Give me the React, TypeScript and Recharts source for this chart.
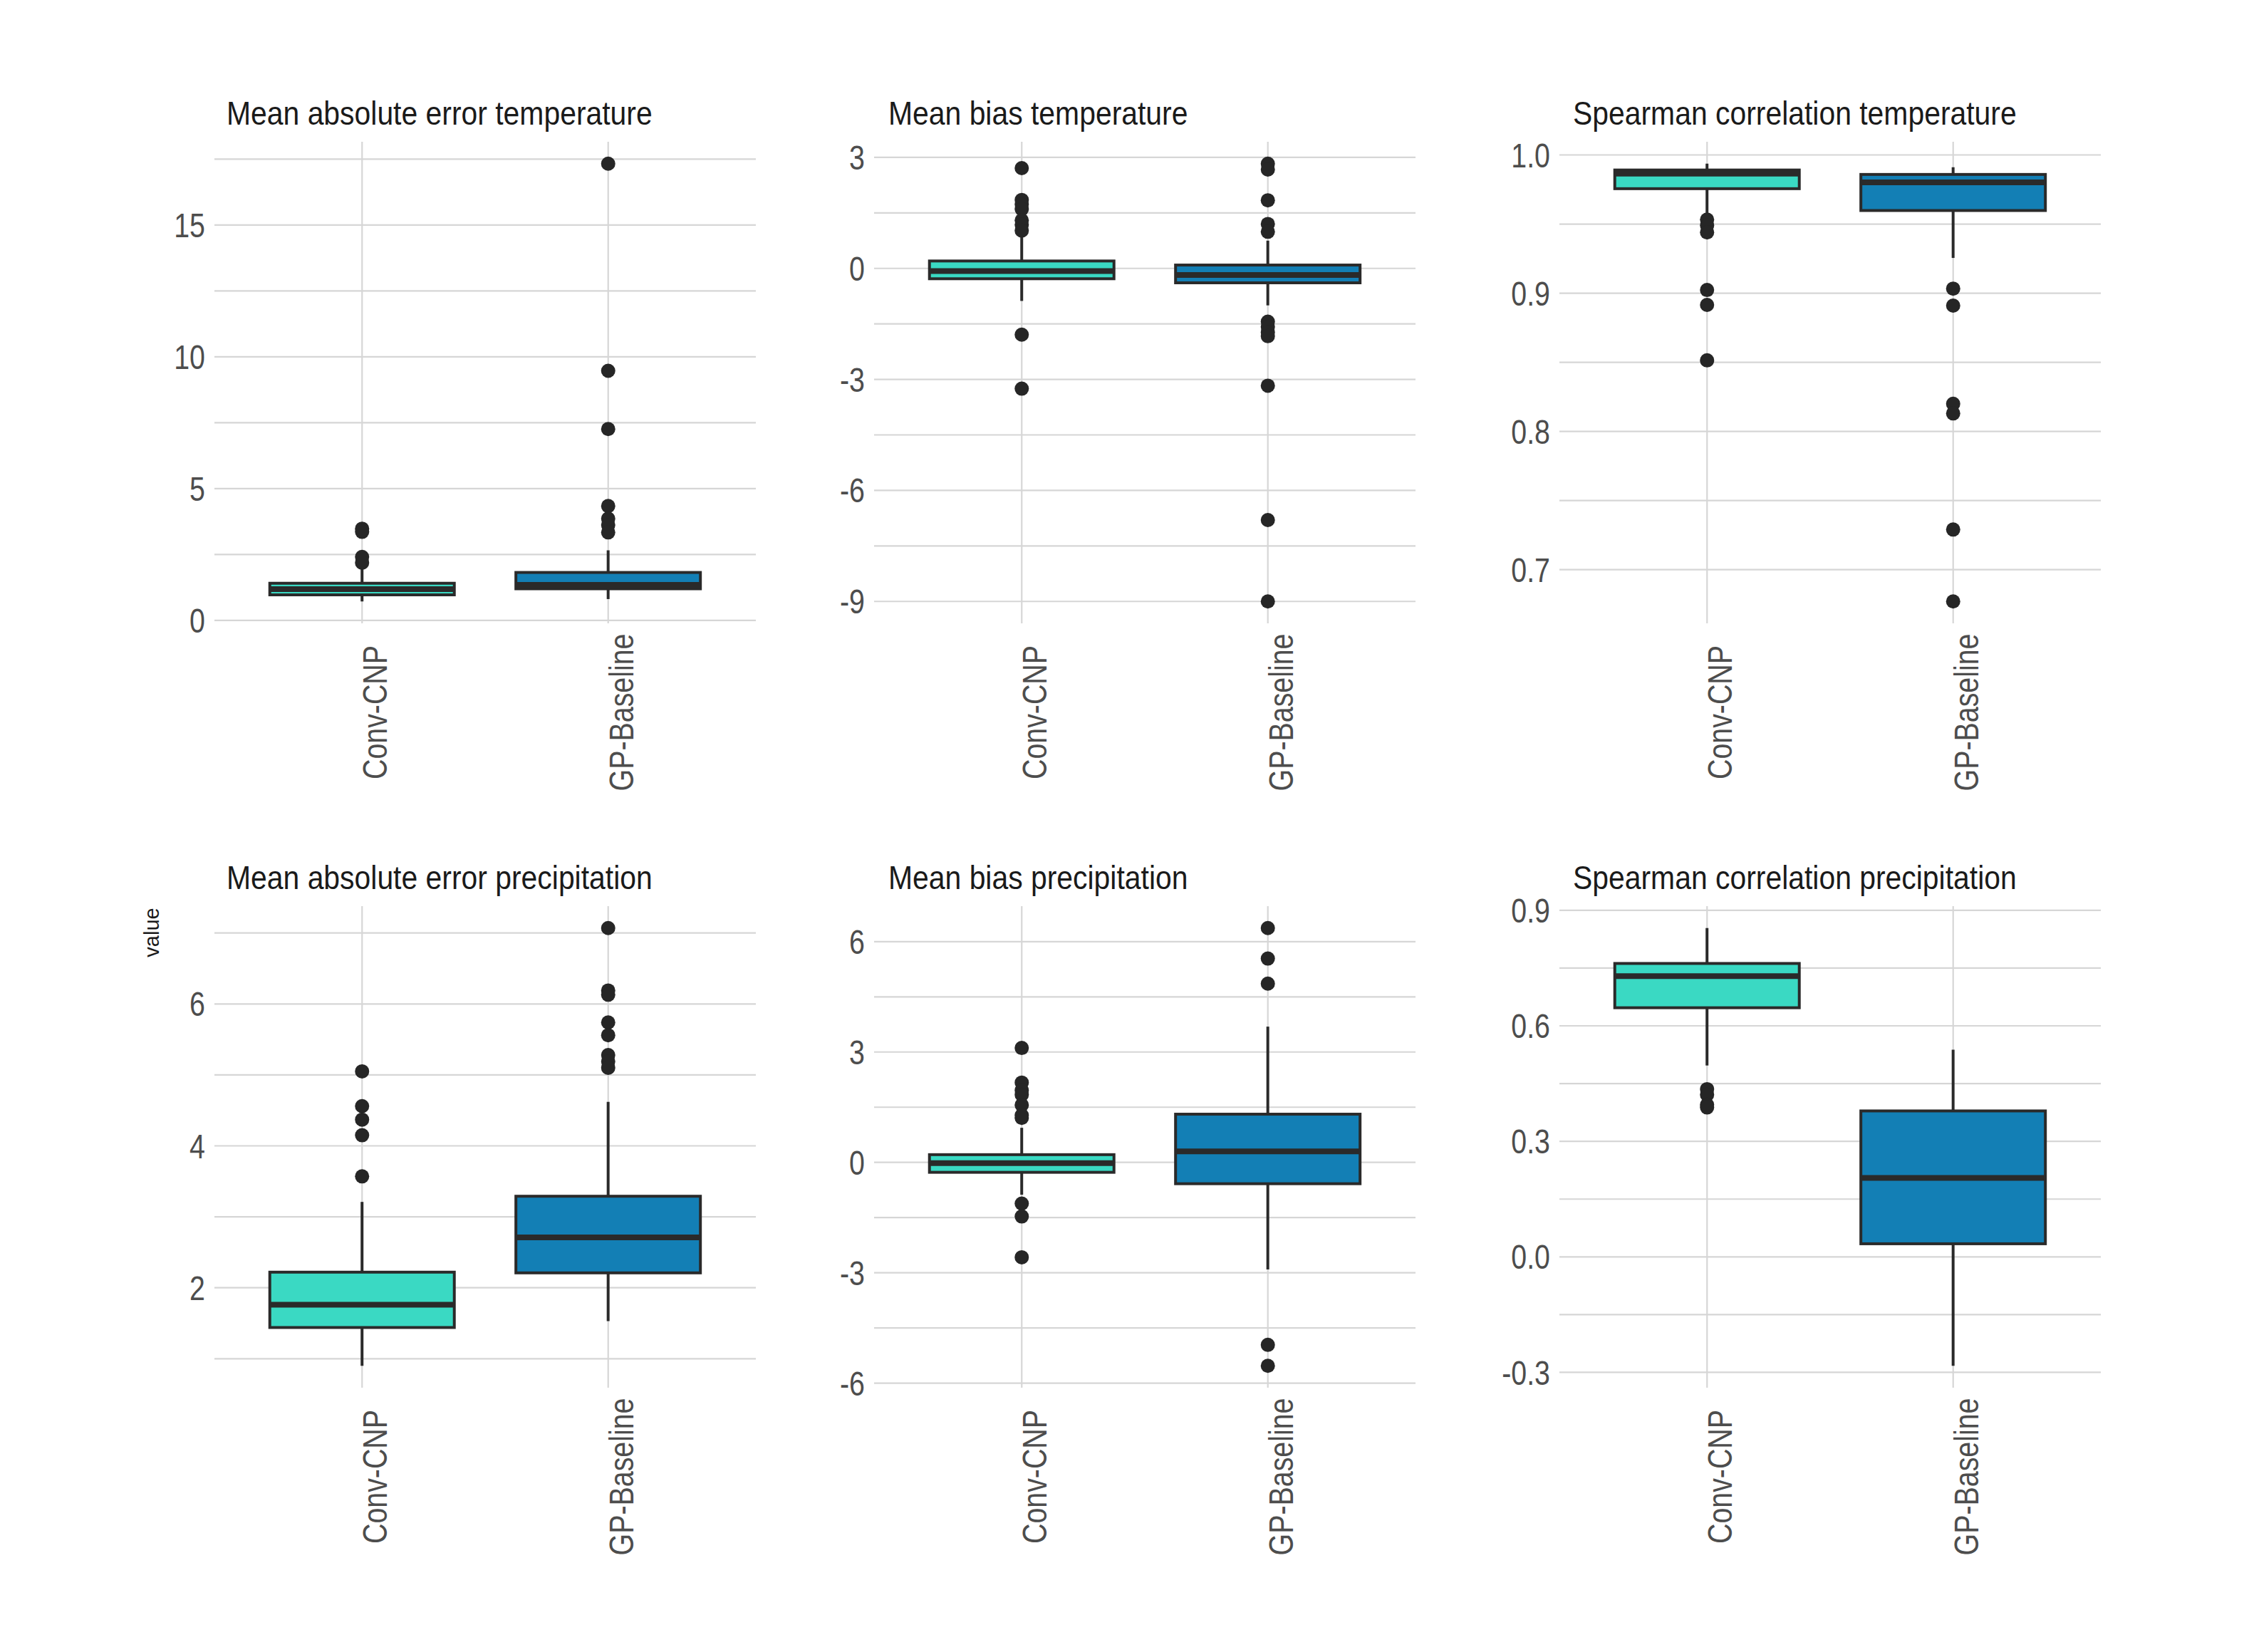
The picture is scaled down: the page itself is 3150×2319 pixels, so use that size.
import React from "react";
import { ComposedChart, Bar, Scatter, XAxis, YAxis, CartesianGrid } from "recharts";

// categories and colours
const models = ["Conv-CNP", "GP-Baseline"];
const modelFills = ["#3ad9c3", "#137fb5"];

// box stats per model: [lower whisker, q1, median, q3, upper whisker]
const maeTempBox = [
  [0.72, 0.97, 1.19, 1.41, 1.97],
  [0.81, 1.2, 1.35, 1.82, 2.66],
];
const maeTempOutliers = [
  [3.48, 3.36, 2.41, 2.19],
  [17.33, 9.47, 7.26, 4.34, 3.86, 3.62, 3.34],
];

const biasTempBox = [
  [-0.88, -0.28, -0.07, 0.2, 0.87],
  [-1.0, -0.39, -0.18, 0.09, 0.75],
];
const biasTempOutliers = [
  [2.71, 1.85, 1.73, 1.6, 1.3, 1.18, 1.02, -1.79, -3.25],
  [2.83, 2.67, 1.84, 1.2, 0.99, -1.44, -1.58, -1.73, -1.83, -3.17, -6.8, -9.0],
];

const corrTempBox = [
  [0.955, 0.9756, 0.9865, 0.9891, 0.9937],
  [0.9255, 0.9598, 0.9802, 0.9859, 0.9911],
];
const corrTempOutliers = [
  [0.9532, 0.949, 0.944, 0.9023, 0.8915, 0.8514],
  [0.9033, 0.891, 0.82, 0.813, 0.729, 0.677],
];

const maePrecBox = [
  [0.9, 1.44, 1.76, 2.22, 3.21],
  [1.53, 2.21, 2.71, 3.29, 4.62],
];
const maePrecOutliers = [
  [5.05, 4.56, 4.37, 4.15, 3.57],
  [7.07, 6.19, 6.13, 5.74, 5.56, 5.28, 5.19, 5.1],
];

const biasPrecBox = [
  [-0.88, -0.27, -0.02, 0.21, 0.94],
  [-2.91, -0.58, 0.3, 1.31, 3.69],
];
const biasPrecOutliers = [
  [3.11, 2.17, 1.96, 1.84, 1.56, 1.28, 1.21, -1.12, -1.47, -2.58],
  [6.37, 5.54, 4.86, -4.96, -5.53],
];

const corrPrecBox = [
  [0.497, 0.647, 0.729, 0.762, 0.854],
  [-0.283, 0.034, 0.205, 0.379, 0.538],
];
const corrPrecOutliers = [[0.4355, 0.421, 0.395, 0.388], []];

// tick labels
const maeTempTicks = [0, 5, 10, 15];
const maeTempMinor = [2.5, 7.5, 12.5, 17.5];
const biasTempTicks = [-9, -6, -3, 0, 3];
const biasTempMinor = [-7.5, -4.5, -1.5, 1.5];
const corrTempTicks = [0.7, 0.8, 0.9, 1.0];
const corrTempMinor = [0.75, 0.85, 0.95];
const maePrecTicks = [2, 4, 6];
const maePrecMinor = [1, 3, 5, 7];
const biasPrecTicks = [-6, -3, 0, 3, 6];
const biasPrecMinor = [-4.5, -1.5, 1.5, 4.5];
const corrPrecTicks = [-0.3, 0.0, 0.3, 0.6, 0.9];
const corrPrecMinor = [-0.15, 0.15, 0.45, 0.75];

const FONT = "'Liberation Sans', Arial, sans-serif";
const GRID = "#d6d6d6";
const INK = "#2a2a2a";
const TICK = "#4d4d4d";
const NARROW = 0.82; // the reference uses a condensed face

const PW = 760; // plot width
const PH = 676; // plot height
const Y_W = 140;
const X_H = 280;
const TOP = 40;
const PAD = PW / 22;

const panels = [
  { title: "Mean absolute error temperature", box: maeTempBox, out: maeTempOutliers, major: maeTempTicks, minor: maeTempMinor, digits: 0, left: 301, top: 199, tx: 318, ty: 175 },
  { title: "Mean bias temperature", box: biasTempBox, out: biasTempOutliers, major: biasTempTicks, minor: biasTempMinor, digits: 0, left: 1227, top: 199, tx: 1247, ty: 175 },
  { title: "Spearman correlation temperature", box: corrTempBox, out: corrTempOutliers, major: corrTempTicks, minor: corrTempMinor, digits: 1, left: 2189, top: 199, tx: 2208, ty: 175 },
  { title: "Mean absolute error precipitation", box: maePrecBox, out: maePrecOutliers, major: maePrecTicks, minor: maePrecMinor, digits: 0, left: 301, top: 1272, tx: 318, ty: 1248 },
  { title: "Mean bias precipitation", box: biasPrecBox, out: biasPrecOutliers, major: biasPrecTicks, minor: biasPrecMinor, digits: 0, left: 1227, top: 1272, tx: 1247, ty: 1248 },
  { title: "Spearman correlation precipitation", box: corrPrecBox, out: corrPrecOutliers, major: corrPrecTicks, minor: corrPrecMinor, digits: 1, left: 2189, top: 1272, tx: 2208, ty: 1248 },
];

const BoxShape = (props: any) => {
  const { x, y, width, height } = props;
  const p = props.payload || props;
  const [lw, q1, med, q3, hw] = p.stats;
  const toY = (v: number) => y + ((hw - v) / (hw - lw)) * height;
  const cx = x + width / 2;
  return (
    <g>
      <line x1={cx} x2={cx} y1={toY(hw)} y2={toY(q3)} stroke={INK} strokeWidth={4} />
      <line x1={cx} x2={cx} y1={toY(q1)} y2={toY(lw)} stroke={INK} strokeWidth={4} />
      <rect x={x} y={toY(q3)} width={width} height={toY(q1) - toY(q3)} fill={p.fill} stroke={INK} strokeWidth={4} />
      <line x1={x} x2={x + width} y1={toY(med)} y2={toY(med)} stroke={INK} strokeWidth={8} />
    </g>
  );
};

const Dot = (props: any) => <circle cx={props.cx} cy={props.cy} r={10} fill="#262626" />;

const XTick = (props: any) => {
  const { x, y, payload } = props;
  const bx = x + 35;
  const by = y + 125;
  return (
    <text
      transform={`translate(${bx} ${by}) rotate(-90) scale(${NARROW} 1)`}
      textAnchor="middle"
      fill={TICK}
      fontSize={48}
      fontFamily={FONT}
    >
      {payload.value}
    </text>
  );
};

const makeYTick = (major: number[], digits: number) => (props: any) => {
  const { x, y, payload } = props;
  const v = payload.value;
  if (!major.some((m) => Math.abs(m - v) < 1e-9)) return <g />;
  return (
    <text
      transform={`translate(${x} ${y}) scale(${NARROW} 1)`}
      dy="0.355em"
      textAnchor="end"
      fill={TICK}
      fontSize={48}
      fontFamily={FONT}
    >
      {v.toFixed(digits)}
    </text>
  );
};

function Panel({ cfg }: { cfg: any }) {
  const rows = models.map((m, i) => ({
    name: m,
    range: [cfg.box[i][0], cfg.box[i][4]],
    stats: cfg.box[i],
    fill: modelFills[i],
  }));
  const points = models.flatMap((m, i) => cfg.out[i].map((v: number) => ({ name: m, v })));
  const all = [...cfg.box.flat(), ...cfg.out.flat()];
  const lo = Math.min(...all);
  const hi = Math.max(...all);
  const ex = (hi - lo) * 0.05;
  const ticks = [...cfg.major, ...cfg.minor].sort((a, b) => a - b);

  return (
    <div style={{ position: "absolute", left: cfg.left - Y_W, top: cfg.top - TOP }}>
      <ComposedChart
        width={Y_W + PW}
        height={TOP + PH + X_H}
        data={rows}
        margin={{ top: TOP, right: 0, bottom: 0, left: 0 }}
        barCategoryGap="12.5%"
      >
        <CartesianGrid stroke={GRID} strokeWidth={2.2} syncWithTicks />
        <XAxis
          dataKey="name"
          type="category"
          allowDuplicatedCategory={false}
          padding={{ left: PAD, right: PAD }}
          axisLine={false}
          tickLine={false}
          tickSize={0}
          tickMargin={0}
          height={X_H}
          interval={0}
          tick={<XTick />}
        />
        <YAxis
          type="number"
          domain={[lo - ex, hi + ex]}
          allowDataOverflow
          ticks={ticks}
          interval={0}
          width={Y_W}
          axisLine={false}
          tickLine={false}
          tickSize={0}
          tickMargin={13}
          tick={makeYTick(cfg.major, cfg.digits)}
        />
        <Bar dataKey="range" shape={BoxShape} isAnimationActive={false} />
        <Scatter data={points} dataKey="v" shape={Dot} isAnimationActive={false} />
      </ComposedChart>
    </div>
  );
}

export default function App() {
  return (
    <div style={{ position: "absolute", left: 0, top: 0, width: 3150, height: 2319, background: "#fff" }}>
      {panels.map((p) => (
        <Panel key={p.title} cfg={p} />
      ))}
      <svg width={3150} height={2319} style={{ position: "absolute", left: 0, top: 0, pointerEvents: "none" }}>
        {panels.map((p) => (
          <text
            key={p.title}
            transform={`translate(${p.tx} ${p.ty}) scale(0.87 1)`}
            fontSize={47}
            fontFamily={FONT}
            fill="#1a1a1a"
          >
            {p.title}
          </text>
        ))}
        <text x={223} y={1309} transform="rotate(-90 223 1309)" textAnchor="middle" fontSize={29} fontFamily={FONT} fill="#1a1a1a">
          value
        </text>
      </svg>
    </div>
  );
}
